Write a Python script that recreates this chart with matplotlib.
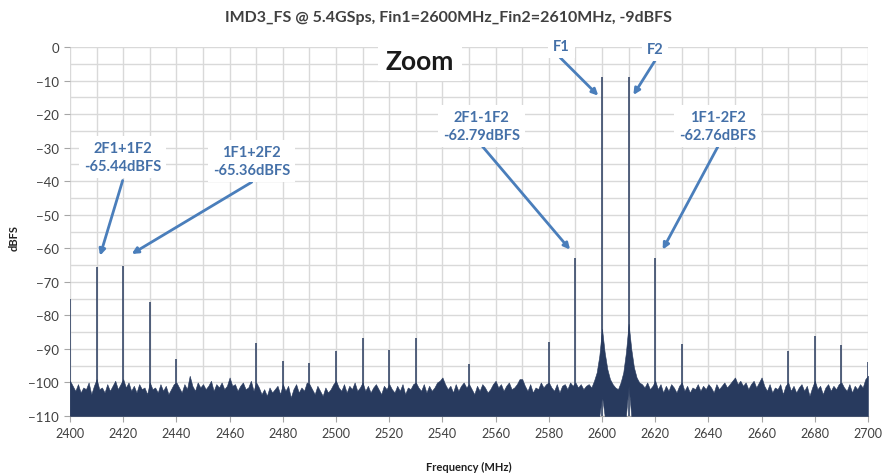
import numpy as np
import matplotlib
matplotlib.use("Agg")
import matplotlib.pyplot as plt

plt.rcParams['font.family'] = ['Lato', 'DejaVu Sans']

# ---------------- data ----------------
title = "IMD3_FS @ 5.4GSps, Fin1=2600MHz_Fin2=2610MHz, -9dBFS"
freq_start, freq_stop = 2400, 2700   # MHz, 1 MHz bins for the noise envelope

# upper edge of the noise floor (dBFS), one value per MHz from 2400 to 2700
noise_top = [
    -99.5, -101.0, -102.5, -100.5, -103.0, -101.5, -102.0, -100.0, -103.5, -101.0,
    -99.0, -102.0, -101.5, -103.0, -100.5, -102.5, -101.0, -99.5, -102.0, -100.5,
    -99.0, -101.5, -100.0, -102.5, -101.0, -103.0, -100.5, -102.0, -101.5, -103.5,
    -100.0, -102.0, -101.5, -103.0, -100.5, -102.5, -101.0, -103.5, -102.0, -100.5,
    -100.0, -101.5, -103.0, -100.5, -102.0, -98.0, -101.0, -102.5, -100.0, -101.5,
    -100.5, -102.0, -101.0, -99.5, -102.5, -100.5, -101.5, -100.0, -102.0, -101.0,
    -98.5, -101.0, -100.5, -102.5, -101.0, -100.0, -102.0, -101.5, -99.5, -102.5,
    -100.0, -101.5, -103.5, -102.0, -104.0, -101.5, -103.0, -102.0, -101.0, -103.5,
    -100.5, -102.5, -101.0, -104.5, -102.0, -100.5, -103.0, -101.5, -102.5, -100.0,
    -100.5, -102.0, -103.5, -101.0, -102.5, -104.0, -101.5, -103.0, -102.0, -100.5,
    -99.5, -101.5, -102.5, -100.5, -103.0, -101.0, -102.0, -100.0, -102.5, -101.5,
    -100.0, -102.5, -101.0, -103.0, -101.5, -100.5, -102.0, -103.5, -101.0, -102.0,
    -100.5, -102.0, -103.0, -101.0, -102.5, -100.5, -103.5, -101.5, -102.0, -100.5,
    -100.0, -101.5, -102.5, -100.5, -103.0, -101.0, -102.5, -101.5, -100.0, -99.5,
    -98.5, -100.5, -102.0, -101.0, -103.0, -100.5, -102.5, -101.0, -100.0, -101.5,
    -100.5, -102.0, -103.5, -101.0, -102.5, -100.5, -101.5, -103.0, -102.0, -100.5,
    -99.5, -101.5, -100.5, -102.5, -101.0, -100.0, -102.0, -101.5, -100.5, -99.0,
    -99.0, -101.0, -102.5, -100.5, -103.0, -101.5, -102.0, -100.0, -101.5, -100.5,
    -100.0, -101.5, -102.5, -100.5, -103.0, -101.0, -100.5, -102.0, -100.0, -101.0,
    -100.0, -101.5, -100.5, -102.0, -101.0, -100.5, -101.5, -99.5, -97.0, -92.0,
    -84.0, -91.0, -96.0, -99.0, -100.5, -101.5, -102.0, -100.0, -97.0, -91.0,
    -82.5, -90.0, -95.5, -98.5, -100.0, -100.5, -101.5, -100.0, -102.0, -101.0,
    -99.5, -102.0, -100.5, -103.0, -101.0, -102.5, -100.5, -101.5, -103.0, -101.0,
    -100.0, -102.5, -101.0, -103.0, -101.5, -102.0, -100.5, -102.5, -101.0, -102.0,
    -100.5, -101.5, -103.0, -100.5, -102.0, -101.0, -100.0, -101.5, -100.5, -99.5,
    -98.5, -100.5, -99.5, -101.0, -100.0, -102.0, -100.5, -99.5, -101.5, -100.0,
    -98.5, -101.0, -102.5, -100.5, -103.0, -101.5, -102.0, -100.5, -103.5, -101.0,
    -100.0, -102.5, -101.0, -103.0, -101.5, -100.5, -102.5, -101.0, -104.0, -101.5,
    -99.5, -102.0, -101.0, -103.5, -101.5, -100.5, -102.5, -101.0, -102.0, -100.5,
    -100.0, -101.5, -102.5, -100.5, -103.0, -101.0, -102.0, -100.5, -101.5, -99.0,
    -98.0,
]
# lower edge of the noise trace: bottom of the plot, raised right at the carriers
noise_floor_level = -110.0
noise_floor_raised = {2600: -104.0, 2610: -101.0}

# discrete tones / spurs (MHz, dBFS)
spur_freq = [2400, 2410, 2420, 2430, 2440, 2470, 2480, 2490, 2500, 2510, 2520,
             2530, 2550, 2580, 2590, 2600, 2610, 2620, 2630, 2670, 2680, 2690, 2700]
spur_level = [-75.0, -65.44, -65.36, -75.9, -93.0, -88.2, -93.7, -94.2, -90.7, -86.8, -90.2,
              -86.7, -94.5, -87.8, -62.79, -9.0, -9.0, -62.76, -88.5, -90.7, -86.2, -88.7, -93.9]

# annotations: (text, text position, arrow tip)
ann_text = ["2F1+1F2\n-65.44dBFS", "1F1+2F2\n-65.36dBFS",
            "2F1-1F2\n-62.79dBFS", "1F1-2F2\n-62.76dBFS", "F1", "F2"]
ann_xy_text = [(2419.8, -32.8), (2468.3, -34.1), (2554.8, -23.5),
               (2643.4, -23.5), (2584.8, 0.4), (2619.9, -0.6)]
ann_xy_tip = [(2411.3, -62.2), (2423.2, -61.7), (2588.0, -60.4),
              (2622.8, -60.4), (2598.6, -14.5), (2611.8, -14.3)]
ann_xy_start = [(2419.8, -39.8), (2468.3, -40.3), (2554.8, -29.4),
                (2644.3, -28.6), (2584.2, -3.1), (2619.9, -4.1)]

zoom_label = "Zoom"
zoom_xy = (2531.6, -4.2)

x_ticks = list(range(2400, 2701, 20))
y_ticks = list(range(-110, 1, 10))

# ---------------- style ----------------
NAVY = "#283A5E"
ANN = "#4470A8"
ARROW = "#4A7EBB"
GRID = "#D9D9D9"
TXT = "#404040"

fig = plt.figure(figsize=(8.85, 4.77), dpi=100)
ax = fig.add_axes([70 / 885, 1 - 417 / 477, 798 / 885, 369 / 477])

freqs = np.arange(freq_start, freq_stop + 1)
floor = np.array([noise_floor_raised.get(int(f), noise_floor_level) for f in freqs])
ax.fill_between(freqs, floor, noise_top, color=NAVY, lw=0.4, edgecolor=NAVY, zorder=3)
ax.vlines(spur_freq, noise_floor_level, spur_level, color=NAVY, lw=1.1, zorder=3)

ax.set_xlim(freq_start, freq_stop)
ax.set_ylim(-110, 0)
ax.set_xticks(x_ticks)
ax.set_xticks(range(2400, 2701, 10), minor=True)
ax.set_yticks(y_ticks)
ax.set_yticks(range(-110, 1, 5), minor=True)
ax.grid(True, which='both', color=GRID, lw=1.0, zorder=0)
ax.set_axisbelow(True)
for s in ['top', 'right', 'left']:
    ax.spines[s].set_visible(False)
ax.spines['bottom'].set_color("#A6A6A6")
ax.tick_params(axis='x', which='major', direction='out', length=4, color="#A6A6A6",
               labelsize=9, labelcolor=TXT, pad=4)
ax.tick_params(axis='y', which='major', direction='out', length=4, color="#A6A6A6",
               labelsize=9.5, labelcolor=TXT, pad=4)
ax.tick_params(which='minor', length=0)

fig.text(0.507, 0.962, title, ha='center', va='center', fontsize=11.5,
         fontweight='bold', color="#404040")
fig.text(14 / 885, 1 - 238 / 477, "dBFS", rotation=90, ha='center', va='center',
         fontsize=8, fontweight='bold', color="#202020")
fig.text(469 / 885, 1 - 467 / 477, "Frequency (MHz)", ha='center', va='center',
         fontsize=8, fontweight='bold', color="#202020")

for t, xt, tip, st in zip(ann_text, ann_xy_text, ann_xy_tip, ann_xy_start):
    ax.annotate("", xy=tip, xytext=st,
                arrowprops=dict(arrowstyle='-|>', color=ARROW, lw=2.0,
                                mutation_scale=9, shrinkA=0, shrinkB=0), zorder=5)
    ax.text(xt[0], xt[1], t, ha='center', va='center', fontsize=10.5,
            fontweight='bold', color=ANN, linespacing=1.35, zorder=6,
            bbox=dict(boxstyle='square,pad=0.35', fc='white', ec='none'))

ax.text(zoom_xy[0], zoom_xy[1], zoom_label, ha='center', va='center', fontsize=19,
        fontweight='bold', color='#1A1A1A', zorder=6,
        bbox=dict(boxstyle='square,pad=0.3', fc='white', ec='none'))

fig.savefig("out.png", dpi=100, facecolor='white')
